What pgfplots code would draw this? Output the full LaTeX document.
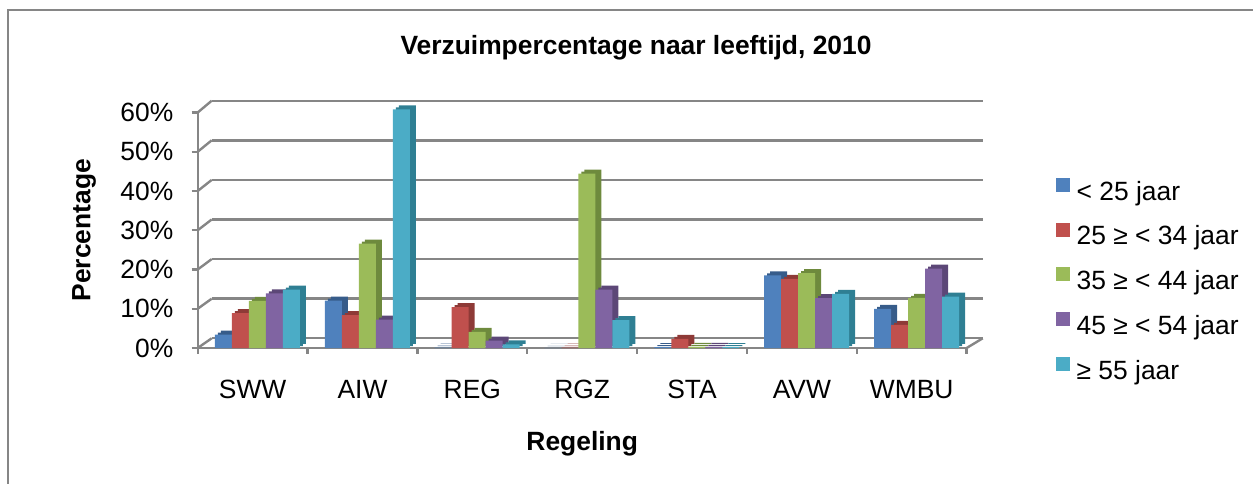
\documentclass[border=0pt]{standalone}
\usepackage{fontspec}
\setmainfont{Liberation Sans}
\usepackage{pgfplots}
\usepackage{pgfplotstable}
\pgfplotsset{compat=1.18}
\definecolor{c1}{HTML}{4F81BD}
\definecolor{c2}{HTML}{C0504D}
\definecolor{c3}{HTML}{9BBB59}
\definecolor{c4}{HTML}{8064A2}
\definecolor{c5}{HTML}{4BACC6}
\definecolor{d1}{HTML}{375C8A}
\definecolor{d2}{HTML}{8E3A37}
\definecolor{d3}{HTML}{6E8A3D}
\definecolor{d4}{HTML}{5C4777}
\definecolor{d5}{HTML}{2F7F93}
\definecolor{gridc}{RGB}{134,134,134}
\newcommand{\cf}{\fontsize{13.2bp}{16bp}\selectfont}
\pgfplotsset{sq/.style={legend image code/.code={\fill[##1] (0bp,0.85bp) rectangle (7bp,7.85bp);}}}

\pgfplotstableread{
cat a b c d e
0 3.4 8.9 12.0 13.9 14.9
1 12.1 8.4 26.6 7.2 60.8
2 0.1 10.4 4.1 1.9 0.9
3 0.05 0.1 44.4 14.9 7.1
4 0.2 2.3 0.3 0.3 0.2
5 18.5 17.6 19.1 12.7 13.8
6 10.0 5.9 12.8 20.2 13.1
}\data

\begin{document}
\begin{tikzpicture}
\useasboundingbox (0,0) rectangle (626.5bp,242bp);
\draw[gridc, line width=1bp] (4bp,0) -- (4bp,237bp) -- (626.5bp,237bp);
\node[anchor=base, font=\bfseries\cf, inner sep=0pt] at (318bp,214.85bp) {Verzuimpercentage naar leeftijd, 2010};

% back wall with gridlines
\begin{axis}[
  scale only axis, width=385.5bp, height=118.8bp,
  at={(105.85bp,72.85bp)}, anchor=south west,
  xmin=-0.5, xmax=6.5, ymin=0, ymax=60,
  ytick={0,10,20,30,40,50,60}, xtick=\empty, yticklabels={,,,,,,},
  ymajorgrids, major grid style={gridc, line width=1.2bp},
  axis line style={draw=none}, major tick length=0pt, clip=false]
\addplot[draw=none, forget plot] coordinates {(0,0)};
\coordinate (b0) at (axis cs:-0.5,0);
\coordinate (b10) at (axis cs:-0.5,10);
\coordinate (b20) at (axis cs:-0.5,20);
\coordinate (b30) at (axis cs:-0.5,30);
\coordinate (b40) at (axis cs:-0.5,40);
\coordinate (b50) at (axis cs:-0.5,50);
\coordinate (b60) at (axis cs:-0.5,60);
\coordinate (br) at (axis cs:6.5,0);
\end{axis}

\begin{axis}[
  scale only axis, width=384.5bp, height=117.75bp,
  at={(98.85bp,68bp)}, anchor=south west,
  xmin=-0.5, xmax=6.5, ymin=0, ymax=60,
  ybar, bar width=0.1547,
  axis x line*=bottom, axis y line*=left,
  axis line style={gridc, line width=1.2bp, -},
  tick align=outside, major tick length=3bp,
  tick style={gridc, line width=1.2bp},
  ytick={0,10,20,30,40,50,60},
  yticklabels={0\%,10\%,20\%,30\%,40\%,50\%,60\%},
  yticklabel style={anchor=east, inner sep=0pt, xshift=-9bp, font=\cf},
  xtick={-0.5,0.5,1.5,2.5,3.5,4.5,5.5,6.5}, xticklabels={},
  extra x ticks={0,1,2,3,4,5,6},
  extra x tick labels={SWW,AIW,REG,RGZ,STA,AVW,WMBU},
  extra x tick style={major tick length=0pt, tick style={draw=none},
     xticklabel style={anchor=north, inner sep=0pt, yshift=-16bp, font=\cf}},
  ylabel={Percentage}, xlabel={Regeling},
  every axis y label/.style={at={(rel axis cs:0,0.5)}, xshift=-56.85bp, rotate=90, anchor=center, font=\bfseries\cf},
  every axis x label/.style={at={(rel axis cs:0.5,0)}, anchor=base, yshift=-51bp, font=\bfseries\cf},
  legend style={at={(rel axis cs:1.1161,0.7231)}, anchor=north west, draw=none, fill=none,
     font=\cf, row sep=8.4bp, inner sep=0pt, outer sep=0pt,
     nodes={inner sep=0pt, text height=9.5bp, text depth=2.8bp},
     /tikz/every odd column/.append style={column sep=3.35bp}},
  legend cell align=left,
  clip=false]
% series 1
\addplot[fill=d1, draw=none, bar shift=-0.2657, xshift=1.5bp, yshift=1bp, forget plot] table[x=cat,y=a]{\data};
\addplot[fill=d1, draw=none, bar shift=-0.2657, xshift=3bp, yshift=2bp, forget plot] table[x=cat,y=a]{\data};
\addplot[fill=c1, draw=none, bar shift=-0.2657, sq] table[x=cat,y=a]{\data};
\addlegendentry{< 25 jaar}
% series 2
\addplot[fill=d2, draw=none, bar shift=-0.1110, xshift=1.5bp, yshift=1bp, forget plot] table[x=cat,y=b]{\data};
\addplot[fill=d2, draw=none, bar shift=-0.1110, xshift=3bp, yshift=2bp, forget plot] table[x=cat,y=b]{\data};
\addplot[fill=c2, draw=none, bar shift=-0.1110, sq] table[x=cat,y=b]{\data};
\addlegendentry{25 ≥ < 34 jaar}
% series 3
\addplot[fill=d3, draw=none, bar shift=0.0437, xshift=1.5bp, yshift=1bp, forget plot] table[x=cat,y=c]{\data};
\addplot[fill=d3, draw=none, bar shift=0.0437, xshift=3bp, yshift=2bp, forget plot] table[x=cat,y=c]{\data};
\addplot[fill=c3, draw=none, bar shift=0.0437, sq] table[x=cat,y=c]{\data};
\addlegendentry{35 ≥ < 44 jaar}
% series 4
\addplot[fill=d4, draw=none, bar shift=0.1984, xshift=1.5bp, yshift=1bp, forget plot] table[x=cat,y=d]{\data};
\addplot[fill=d4, draw=none, bar shift=0.1984, xshift=3bp, yshift=2bp, forget plot] table[x=cat,y=d]{\data};
\addplot[fill=c4, draw=none, bar shift=0.1984, sq] table[x=cat,y=d]{\data};
\addlegendentry{45 ≥ < 54 jaar}
% series 5
\addplot[fill=d5, draw=none, bar shift=0.3531, xshift=1.5bp, yshift=1bp, forget plot] table[x=cat,y=e]{\data};
\addplot[fill=d5, draw=none, bar shift=0.3531, xshift=3bp, yshift=2bp, forget plot] table[x=cat,y=e]{\data};
\addplot[fill=c5, draw=none, bar shift=0.3531, sq] table[x=cat,y=e]{\data};
\addlegendentry{≥ 55 jaar}
\coordinate (f0) at (axis cs:-0.5,0);
\coordinate (f10) at (axis cs:-0.5,10);
\coordinate (f20) at (axis cs:-0.5,20);
\coordinate (f30) at (axis cs:-0.5,30);
\coordinate (f40) at (axis cs:-0.5,40);
\coordinate (f50) at (axis cs:-0.5,50);
\coordinate (f60) at (axis cs:-0.5,60);
\coordinate (fr) at (axis cs:6.5,0);
\end{axis}
\foreach \v in {0,10,20,30,40,50,60}{\draw[gridc, line width=1.2bp] (f\v) -- (b\v);}
\draw[gridc, line width=1.2bp] (fr) -- (br);
\end{tikzpicture}
\end{document}
